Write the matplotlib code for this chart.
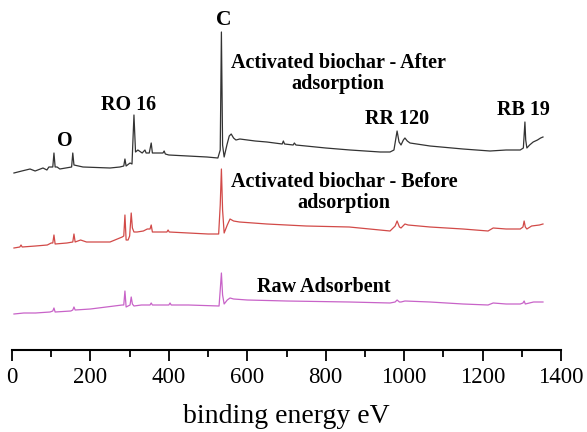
import matplotlib
matplotlib.use("Agg")
import matplotlib.pyplot as plt
from matplotlib.ticker import MultipleLocator

plt.rcParams['font.family'] = ['Liberation Serif', 'DejaVu Serif']

# XPS survey spectra as (binding energy eV, detector level) pairs;
# a lower level means a stronger signal
after_pts = [(5, 173), (25, 171), (46, 169), (59, 171), (79, 168), (89, 170),
             (94, 167), (104, 167), (107, 153), (110, 167), (115, 167), (122, 169),
             (152, 167), (155, 153), (158, 165), (181, 167), (250, 168), (275, 167),
             (285, 166), (288, 159), (291, 166), (301, 163), (306, 164), (311, 115),
             (315, 152), (321, 150), (332, 153), (339, 150), (342, 153), (350, 153),
             (355, 143), (358, 153), (372, 153), (385, 153), (388, 151), (391, 154),
             (400, 155), (497, 157), (525, 158), (531, 150), (534, 32), (537, 145),
             (541, 157), (548, 145), (554, 136), (559, 134), (565, 138), (571, 140),
             (581, 139), (620, 141), (650, 142), (689, 144), (692, 141), (695, 144),
             (717, 145), (720, 143), (724, 145), (800, 148), (862, 150), (939, 152),
             (964, 152), (974, 150), (982, 131), (987, 142), (992, 145), (998, 140),
             (1002, 138), (1008, 141), (1015, 143), (1066, 146), (1150, 149),
             (1219, 151), (1260, 150), (1296, 150), (1304, 148), (1306, 135),
             (1308, 122), (1310, 140), (1313, 148), (1320, 145), (1329, 142),
             (1340, 140), (1348, 138), (1354, 137)]

before_pts = [(5, 248), (20, 247), (23, 245), (26, 247), (60, 246), (90, 245),
              (100, 243), (104, 243), (107, 235), (110, 244), (140, 243), (155, 242),
              (158, 234), (161, 242), (175, 240), (190, 242), (225, 242), (250, 242),
              (281, 237), (285, 236), (288, 215), (291, 240), (296, 240), (300, 236),
              (304, 213), (307, 228), (311, 232), (319, 232), (335, 231), (345, 229),
              (352, 229), (355, 225), (358, 232), (380, 232), (395, 232), (398, 230),
              (401, 232), (450, 233), (500, 234), (527, 234), (531, 205), (534, 169),
              (537, 210), (541, 233), (549, 225), (556, 219), (565, 221), (580, 222),
              (650, 224), (750, 226), (860, 227), (964, 231), (977, 226), (982, 221),
              (988, 227), (992, 228), (1002, 224), (1010, 225), (1066, 227),
              (1150, 229), (1214, 231), (1227, 228), (1260, 229), (1296, 229),
              (1303, 227), (1306, 221), (1309, 227), (1313, 229), (1325, 226),
              (1345, 225), (1354, 224)]

raw_pts = [(5, 314), (30, 313), (60, 313), (97, 312), (104, 311), (107, 308),
           (110, 312), (150, 311), (155, 310), (158, 307), (161, 310), (200, 309),
           (281, 305), (285, 305), (288, 291), (291, 307), (296, 306), (301, 305),
           (304, 297), (307, 304), (311, 306), (330, 305), (352, 305), (355, 303),
           (358, 305), (400, 305), (403, 303), (406, 305), (450, 305), (528, 306),
           (531, 290), (534, 273), (537, 295), (541, 304), (549, 300), (556, 298),
           (565, 299), (600, 300), (700, 301), (860, 302), (964, 303), (977, 302),
           (982, 300), (988, 302), (992, 302), (1002, 301), (1066, 302), (1150, 304),
           (1214, 305), (1227, 303), (1260, 304), (1296, 304), (1303, 303),
           (1306, 301), (1309, 304), (1330, 302), (1354, 302)]

offsets = [177, 102, 36]
colors = ['#333333', '#d24a48', '#c863c8']

fig = plt.figure(figsize=(5.87, 4.32), dpi=100)
ax = fig.add_axes([12 / 587, 82 / 432, 549 / 587, 350 / 432])

for pts, off, col in zip([after_pts, before_pts, raw_pts], offsets, colors):
    ev = [p[0] for p in pts]
    # intensity relative to the first point of the trace, stacked by offset
    inten = [pts[0][1] - p[1] + off for p in pts]
    ax.plot(ev, inten, color=col, lw=0.9)

ax.set_xlim(0, 1400)
ax.set_ylim(0, 350)
ax.xaxis.set_major_locator(MultipleLocator(200))
ax.xaxis.set_minor_locator(MultipleLocator(100))
for s in ['top', 'right', 'left']:
    ax.spines[s].set_visible(False)
ax.spines['bottom'].set_linewidth(1.5)
ax.set_yticks([])
ax.tick_params(axis='x', which='major', length=8, width=1.3, labelsize=16.5, pad=4)
ax.tick_params(axis='x', which='minor', length=5, width=1.3)
ax.set_xlabel('binding energy eV', fontsize=20, labelpad=12)

lab = dict(fontsize=14.5, fontweight='bold', ha='center', va='baseline')
ax.text(539, 325, 'C', **dict(lab, fontsize=15.5))
ax.text(298, 240, 'RO 16', **lab)
ax.text(135, 204, 'O', **lab)
ax.text(982, 226, 'RR 120', **lab)
ax.text(1303, 235, 'RB 19', **lab)
# two-line labels: y is the baseline of the second line
ax.text(832, 261, 'Activated biochar - After\nadsorption', linespacing=1.05, **lab)
ax.text(847, 142, 'Activated biochar - Before\nadsorption', linespacing=1.05, **lab)
ax.text(796, 58, 'Raw Adsorbent', **lab)

fig.savefig('out.png', dpi=100)
